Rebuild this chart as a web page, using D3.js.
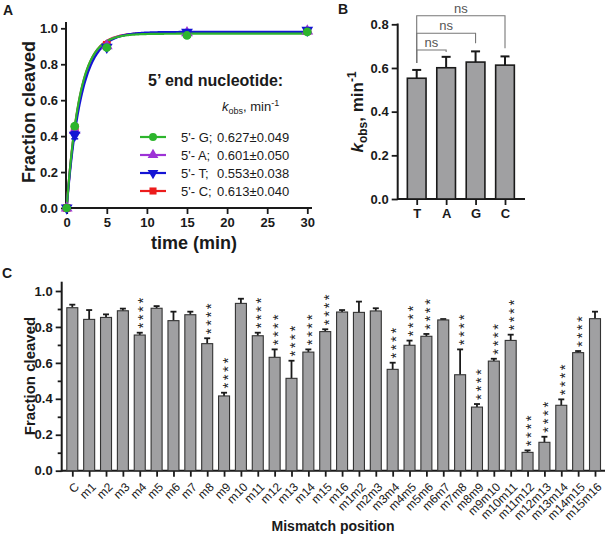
<!DOCTYPE html>
<html><head><meta charset="utf-8">
<script src="https://cdn.jsdelivr.net/npm/d3@7"></script>
<style>body{margin:0;background:#fff}svg{display:block;font-family:"Liberation Sans",Arial,sans-serif}</style>
</head><body><svg id="c" width="609" height="537"></svg>
<script>
// ---------- Panel A data ----------
const timeMin = [0, 1, 5, 15, 30];
const timeTicks = [0, 5, 10, 15, 20, 25, 30];
const fracTicksA = [0, 0.2, 0.4, 0.6, 0.8, 1.0];
const seriesNames = ["G", "A", "T", "C"];
const seriesColors = ["#2db52d", "#9d32d6", "#1414d4", "#ec1c1c"];
const seriesSymbols = ["circle", "triangle", "triangleDown", "square"];
const fracG = [0, 0.455, 0.893, 0.960, 0.980];
const fracA = [0, 0.432, 0.903, 0.975, 0.985];
const fracT = [0, 0.405, 0.895, 0.978, 0.990];
const fracC = [0, 0.445, 0.908, 0.972, 0.985];
const errG = [0, 0.010, 0.010, 0.008, 0.006];
const errA = [0, 0.012, 0.010, 0.008, 0.006];
const errT = [0, 0.020, 0.012, 0.008, 0.008];
const errC = [0, 0.010, 0.010, 0.008, 0.006];
const kobs = [0.627, 0.601, 0.553, 0.613];
const kobsErr = [0.049, 0.050, 0.038, 0.040];
const plateau = [0.970, 0.975, 0.980, 0.975];

// ---------- Panel B data ----------
const nucCats = ["T", "A", "G", "C"];
const kobsB = [0.553, 0.601, 0.627, 0.613];
const kobsBErr = [0.038, 0.050, 0.049, 0.040];
const kTicks = [0, 0.2, 0.4, 0.6, 0.8];
const comparisons = [["T", "A"], ["T", "G"], ["T", "C"]];
const compLabels = ["ns", "ns", "ns"];

// ---------- Panel C data ----------
const mmCats = ["C","m1","m2","m3","m4","m5","m6","m7","m8","m9","m10","m11","m12","m13","m14","m15","m16",
  "m1m2","m2m3","m3m4","m4m5","m5m6","m6m7","m7m8","m8m9","m9m10","m10m11","m11m12","m12m13","m13m14","m14m15","m15m16"];
const mmFrac = [0.907,0.842,0.853,0.890,0.755,0.904,0.835,0.868,0.707,0.416,0.931,0.751,0.631,0.514,0.660,0.774,0.883,
  0.881,0.889,0.564,0.698,0.748,0.839,0.534,0.354,0.610,0.725,0.102,0.158,0.364,0.657,0.846];
const mmErr = [0.017,0.052,0.017,0.012,0.013,0.012,0.050,0.017,0.030,0.018,0.026,0.017,0.044,0.098,0.015,0.013,0.011,
  0.060,0.015,0.037,0.026,0.013,0.005,0.141,0.017,0.013,0.032,0.011,0.031,0.033,0.009,0.039];
const mmSig = ["","","","","****","","","","****","****","","****","****","****","****","****","",
  "","","****","****","****","","****","****","****","****","****","****","****","****",""];
const fracTicksC = [0, 0.2, 0.4, 0.6, 0.8, 1.0];
const fracMinorC = [0.1, 0.3, 0.5, 0.7, 0.9];

const svg = d3.select("#c");
const ink = "#1a1a1a";
const fmt = d3.format(".1f");

function styleAxis(g, size, weight) {
  g.select(".domain").remove();
  g.selectAll(".tick line").attr("stroke", ink).attr("stroke-width", 1.8);
  g.selectAll(".tick text").attr("fill", ink).attr("font-size", size).attr("font-weight", weight)
    .attr("font-family", '"Liberation Sans",Arial,sans-serif');
}
function line(x1, y1, x2, y2, col, w) {
  svg.append("line").attr("x1", x1).attr("y1", y1).attr("x2", x2).attr("y2", y2)
    .attr("stroke", col).attr("stroke-width", w);
}
function label(txt, x, y) {
  svg.append("text").attr("x", x).attr("y", y).attr("font-size", 14).attr("font-weight", "bold").attr("fill", ink).text(txt);
}

// ================= Panel A =================
label("A", 3, 15);
const xA = d3.scaleLinear([0, 30], [66.7, 307.3]);
const yA = d3.scaleLinear([0, 1], [208, 28.3]);
svg.append("g").attr("transform", "translate(66,0)")
  .call(d3.axisLeft(yA).tickValues(fracTicksA).tickFormat(fmt).tickSize(5).tickPadding(3).tickSizeOuter(0))
  .call(g => styleAxis(g, 13, "bold"));
svg.append("g").attr("transform", "translate(0,208)")
  .call(d3.axisBottom(xA).tickValues(timeTicks).tickSize(6).tickPadding(4).tickSizeOuter(0))
  .call(g => styleAxis(g, 13, "bold"));
line(66, 22, 66, 209, ink, 2);
line(66, 208, 312, 208, ink, 2);
svg.append("text").attr("transform", "translate(35,112) rotate(-90)").attr("text-anchor", "middle")
  .attr("font-size", 18).attr("font-weight", "bold").attr("fill", ink).text("Fraction cleaved");
svg.append("text").attr("x", 194).attr("y", 249).attr("text-anchor", "middle")
  .attr("font-size", 18).attr("font-weight", "bold").attr("fill", ink).text("time (min)");

const seriesFrac = [fracG, fracA, fracT, fracC];
const seriesErr = [errG, errA, errT, errC];
const symMap = { circle: d3.symbolCircle, triangle: d3.symbolTriangle, triangleDown: d3.symbolTriangle, square: d3.symbolSquare };
function drawSymbol(g, type, x, y, color, size) {
  g.append("path").attr("d", d3.symbol(symMap[type], size)())
    .attr("transform", `translate(${x},${y})` + (type === "triangleDown" ? " rotate(180)" : ""))
    .attr("fill", color);
}
const drawOrder = [3, 1, 2, 0];
const gA = svg.append("g");
drawOrder.forEach(i => {
  const tFine = d3.range(0, 30.001, 0.1);
  const ln = d3.line().x(t => xA(t)).y(t => yA(plateau[i] * (1 - Math.exp(-kobs[i] * t))));
  gA.append("path").attr("d", ln(tFine)).attr("fill", "none").attr("stroke", seriesColors[i]).attr("stroke-width", 2.2);
});
drawOrder.forEach(i => {
  timeMin.forEach((t, j) => {
    const v = seriesFrac[i][j], e = seriesErr[i][j];
    if (e > 0) {
      gA.append("line").attr("x1", xA(t)).attr("x2", xA(t)).attr("y1", yA(v - e)).attr("y2", yA(v + e))
        .attr("stroke", seriesColors[i]).attr("stroke-width", 1.5);
      [v - e, v + e].forEach(u => gA.append("line").attr("x1", xA(t) - 3.5).attr("x2", xA(t) + 3.5)
        .attr("y1", yA(u)).attr("y2", yA(u)).attr("stroke", seriesColors[i]).attr("stroke-width", 1.5));
    }
    drawSymbol(gA, seriesSymbols[i], xA(t), yA(v), seriesColors[i], 60);
  });
});
// legend
svg.append("text").attr("x", 148).attr("y", 86).attr("font-size", 16).attr("font-weight", "bold").attr("fill", ink).text("5’ end nucleotide:");
const kt = svg.append("text").attr("x", 222).attr("y", 111).attr("font-size", 13).attr("fill", ink);
kt.append("tspan").attr("font-style", "italic").text("k");
kt.append("tspan").attr("font-size", 9).attr("dy", 3).text("obs");
kt.append("tspan").attr("dy", -3).text(", min");
kt.append("tspan").attr("font-size", 9).attr("dy", -5).text("-1");
const legY = [137, 155, 173, 191];
seriesNames.forEach((n, i) => {
  const y = legY[i];
  line(140, y, 166, y, seriesColors[i], 2.2);
  drawSymbol(svg, seriesSymbols[i], 153, y, seriesColors[i], 50);
  svg.append("text").attr("x", 181).attr("y", y + 4.5).attr("font-size", 13).attr("fill", ink).text(`5'- ${n};`);
  svg.append("text").attr("x", 217).attr("y", y + 4.5).attr("font-size", 13).attr("fill", ink)
    .text(`${kobs[i].toFixed(3)}±${kobsErr[i].toFixed(3)}`);
});

// ================= Panel B =================
label("B", 338, 14);
const xB = d3.scalePoint(nucCats, [416.7, 505]);
const yB = d3.scaleLinear([0, 0.8], [199, 24.3]);
const bwB = 18.7;
svg.append("g").attr("transform", "translate(397.7,0)")
  .call(d3.axisLeft(yB).tickValues(kTicks).tickFormat(fmt).tickSize(6).tickPadding(3).tickSizeOuter(0))
  .call(g => styleAxis(g, 13, "bold"));
svg.append("g").attr("transform", "translate(0,199)")
  .call(d3.axisBottom(xB).tickSize(6).tickPadding(4).tickSizeOuter(0))
  .call(g => styleAxis(g, 13, "bold"));
line(397.7, 23.5, 397.7, 200, ink, 2);
line(397.7, 199, 525, 199, ink, 2);
const gB = svg.append("g");
nucCats.forEach((c, i) => {
  const cx = xB(c);
  gB.append("line").attr("x1", cx).attr("x2", cx).attr("y1", yB(kobsB[i])).attr("y2", yB(kobsB[i] + kobsBErr[i]))
    .attr("stroke", ink).attr("stroke-width", 2);
  gB.append("line").attr("x1", cx - 4.5).attr("x2", cx + 4.5).attr("y1", yB(kobsB[i] + kobsBErr[i])).attr("y2", yB(kobsB[i] + kobsBErr[i]))
    .attr("stroke", ink).attr("stroke-width", 2);
  gB.append("rect").attr("x", cx - bwB / 2).attr("y", yB(kobsB[i])).attr("width", bwB).attr("height", yB(0) - yB(kobsB[i]))
    .attr("fill", "#a0a0a2").attr("stroke", ink).attr("stroke-width", 1.6);
});
const brY = [50, 33.3, 15.7];
const brEnd = [52, 43.3, 48.3];
comparisons.forEach((p, i) => {
  const x1 = xB(p[0]), x2 = xB(p[1]);
  gB.append("path").attr("d", `M${x1},63 L${x1},${brY[i]} L${x2},${brY[i]} L${x2},${brEnd[i]}`)
    .attr("fill", "none").attr("stroke", "#777").attr("stroke-width", 1.1);
  gB.append("text").attr("x", (x1 + x2) / 2).attr("y", brY[i] - 3).attr("text-anchor", "middle")
    .attr("font-size", 13).attr("fill", "#555").text(compLabels[i]);
});
const kTitle = svg.append("text").attr("transform", "translate(363,112) rotate(-90)").attr("text-anchor", "middle")
  .attr("font-size", 17).attr("font-weight", "bold").attr("fill", ink);
kTitle.append("tspan").attr("font-style", "italic").text("k");
kTitle.append("tspan").attr("font-size", 12).attr("dy", 4).text("obs");
kTitle.append("tspan").attr("dy", -4).text(", min");
kTitle.append("tspan").attr("font-size", 12).attr("dy", -7).text("-1");

// ================= Panel C =================
label("C", 2, 278);
const xC = d3.scalePoint(mmCats, [72.3, 595]);
const yC = d3.scaleLinear([0, 1], [470.7, 291]);
const bwC = 11;
svg.append("g").attr("transform", "translate(61.7,0)")
  .call(d3.axisLeft(yC).tickValues(fracTicksC).tickFormat(fmt).tickSize(6).tickPadding(3).tickSizeOuter(0))
  .call(g => styleAxis(g, 13, "bold"));
svg.append("g").attr("transform", "translate(61.7,0)")
  .call(d3.axisLeft(yC).tickValues(fracMinorC).tickFormat("").tickSize(4).tickSizeOuter(0))
  .call(g => styleAxis(g, 13, "bold"));
const xAxC = svg.append("g").attr("transform", "translate(0,470.7)")
  .call(d3.axisBottom(xC).tickSize(6).tickSizeOuter(0))
  .call(g => styleAxis(g, 12, "normal"));
xAxC.selectAll(".tick text").attr("text-anchor", "end").attr("y", 0).attr("dy", "0.35em")
  .attr("transform", "translate(4,14) rotate(-45)");
line(61.7, 281.7, 61.7, 471.7, ink, 2);
line(61.7, 470.7, 605, 470.7, ink, 2);
const gC = svg.append("g");
mmCats.forEach((c, i) => {
  const cx = xC(c), v = mmFrac[i], top = v + mmErr[i];
  gC.append("line").attr("x1", cx).attr("x2", cx).attr("y1", yC(v)).attr("y2", yC(top)).attr("stroke", ink).attr("stroke-width", 1.8);
  gC.append("line").attr("x1", cx - 3).attr("x2", cx + 3).attr("y1", yC(top)).attr("y2", yC(top)).attr("stroke", ink).attr("stroke-width", 1.8);
  gC.append("rect").attr("x", cx - bwC / 2).attr("y", yC(v)).attr("width", bwC).attr("height", yC(0) - yC(v))
    .attr("fill", "#a0a0a2").attr("stroke", "#333").attr("stroke-width", 1.1);
  if (mmSig[i]) {
    gC.append("text").attr("transform", `translate(${cx + 8.7},${yC(top) - 4.1}) rotate(-90)`)
      .attr("font-size", 15).attr("letter-spacing", 2.5).attr("fill", "#222").text(mmSig[i]);
  }
});
svg.append("text").attr("transform", "translate(35,376) rotate(-90)").attr("text-anchor", "middle")
  .attr("font-size", 15).attr("font-weight", "bold").attr("fill", ink).text("Fraction cleaved");
svg.append("text").attr("x", 333).attr("y", 531).attr("text-anchor", "middle")
  .attr("font-size", 14).attr("font-weight", "bold").attr("fill", ink).text("Mismatch position");
</script></body></html>
